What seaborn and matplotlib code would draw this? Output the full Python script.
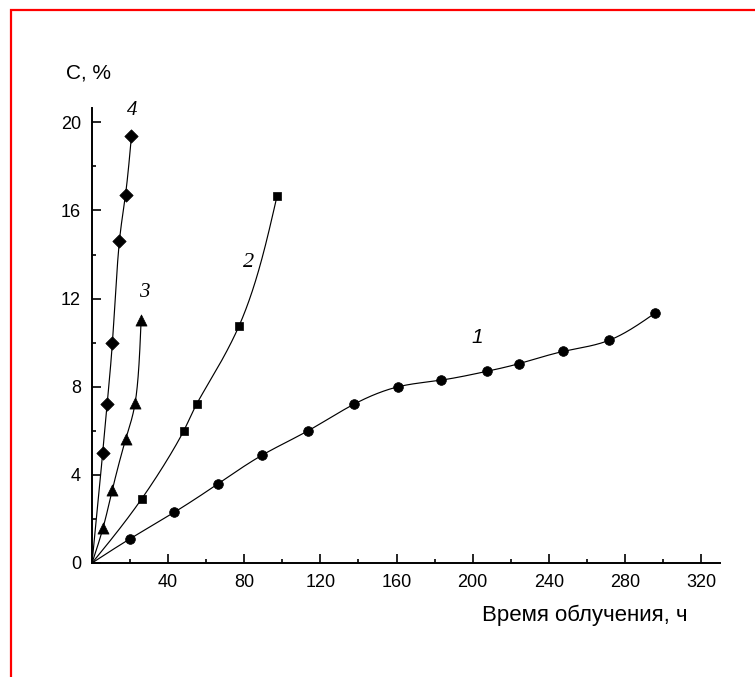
import numpy as np
import matplotlib
matplotlib.use("Agg")
import matplotlib.pyplot as plt
from matplotlib.patches import Rectangle
from matplotlib.ticker import MultipleLocator, FixedLocator
import seaborn as sns

# Irradiation time (h) and concentration C (%) for the four samples
t1 = [20, 43.2, 66.3, 89.5, 113.5, 137.5, 161, 183.5, 207.5, 224.5, 247.5, 271.5, 296]
c1 = [1.1, 2.3, 3.6, 4.9, 6.0, 7.2, 8.0, 8.3, 8.7, 9.05, 9.6, 10.1, 11.35]

t2 = [26, 48.2, 55, 77.2, 97.2]
c2 = [2.9, 6.0, 7.22, 10.75, 16.65]

t3 = [5.8, 10.7, 17.7, 22.6, 25.8]
c3 = [1.6, 3.33, 5.62, 7.24, 11.05]

t4 = [5.6, 7.9, 10.7, 14.4, 17.6, 20.7]
c4 = [5.0, 7.2, 10.0, 14.62, 16.72, 19.36]

curve_names = ["1", "2", "3", "4"]
x_ticks = [40, 80, 120, 160, 200, 240, 280, 320]
y_ticks = [0, 4, 8, 12, 16, 20]

# approximate on-screen scale (pixels per data unit) used for smoothing
SX, SY = 1.903, 22.03


def natural_spline(s, v, sn):
    """Natural cubic spline v(s) evaluated at sn."""
    s = np.asarray(s, float)
    v = np.asarray(v, float)
    n = len(s)
    h = np.diff(s)
    A = np.zeros((n, n))
    r = np.zeros(n)
    A[0, 0] = A[-1, -1] = 1.0
    for i in range(1, n - 1):
        A[i, i - 1] = h[i - 1]
        A[i, i] = 2 * (h[i - 1] + h[i])
        A[i, i + 1] = h[i]
        r[i] = 6 * ((v[i + 1] - v[i]) / h[i] - (v[i] - v[i - 1]) / h[i - 1])
    M = np.linalg.solve(A, r)
    k = np.clip(np.searchsorted(s, sn) - 1, 0, n - 2)
    hk = h[k]
    a = (s[k + 1] - sn) / hk
    b = (sn - s[k]) / hk
    return (a * v[k] + b * v[k + 1]
            + ((a**3 - a) * M[k] + (b**3 - b) * M[k + 1]) * hk**2 / 6)


def smooth_curve(x, y, num=600):
    """Parametric spline through the points (centripetal parametrisation)."""
    px = np.asarray(x, float) * SX
    py = np.asarray(y, float) * SY
    seg = np.sqrt(np.hypot(np.diff(px), np.diff(py)))
    s = np.concatenate([[0.0], np.cumsum(seg)])
    sn = np.linspace(0, s[-1], num)
    return natural_spline(s, px, sn) / SX, natural_spline(s, py, sn) / SY


sns.set_style("white")
plt.rcParams["font.family"] = ["Liberation Sans", "DejaVu Sans"]
plt.rcParams["text.color"] = "black"
plt.rcParams["xtick.color"] = "black"
plt.rcParams["ytick.color"] = "black"
plt.rcParams["axes.labelcolor"] = "black"

fig = plt.figure(figsize=(7.55, 6.77), dpi=100)
ax = fig.add_axes([0.1219, 0.1684, 0.8318, 0.6721])

series = [
    (t1, c1, "o", 7.0),
    (t2, c2, "s", 5.6),
    (t3, c3, "^", 8.0),
    (t4, c4, "D", 6.8),
]

for t, c, mk, ms in series:
    xs = np.concatenate([[0.0], t])
    ys = np.concatenate([[0.0], c])
    xd, yd = smooth_curve(xs, ys)
    sns.lineplot(x=xd, y=yd, ax=ax, color="black", lw=0.85, sort=False,
                 estimator=None)
    sns.scatterplot(x=t, y=c, ax=ax, marker=mk, s=ms**2, color="black",
                    edgecolor="black", linewidth=0.5, zorder=3)

# Curve numbers
ax.text(202.2, 10.25, curve_names[0], fontsize=15, style="italic",
        family=["Liberation Sans"], ha="center", va="center")
ax.text(82.1, 13.65, curve_names[1], fontsize=16, style="italic",
        family=["Liberation Serif"], ha="center", va="center")
ax.text(27.3, 12.29, curve_names[2], fontsize=15, style="italic",
        family=["Liberation Serif"], ha="center", va="center")
ax.text(20.9, 20.54, curve_names[3], fontsize=15, style="italic",
        family=["Liberation Serif"], ha="center", va="center", clip_on=False)

ax.set_xlim(0, 330)
ax.set_ylim(0, 20.65)
ax.xaxis.set_major_locator(FixedLocator(x_ticks))
ax.xaxis.set_minor_locator(MultipleLocator(20))
ax.yaxis.set_major_locator(FixedLocator(y_ticks))
ax.yaxis.set_minor_locator(MultipleLocator(2))
ax.set_xticklabels([str(v) for v in x_ticks])
ax.set_yticklabels([str(v) for v in y_ticks])

for side in ("top", "right"):
    ax.spines[side].set_visible(False)
for side in ("left", "bottom"):
    ax.spines[side].set_linewidth(1.4)
    ax.spines[side].set_color("black")

ax.tick_params(which="major", direction="in", length=6.5, width=1.2,
               labelsize=13, color="black", labelcolor="black", pad=8)
ax.tick_params(which="minor", direction="in", length=3.2, width=1.2,
               color="black")
ax.tick_params(axis="x", which="both", bottom=True)
ax.tick_params(axis="y", which="both", left=True)
ax.grid(False)
ax.set_xlabel("")
ax.set_ylabel("")

fig.text(89 / 755, 1 - 73 / 677, "C, %", fontsize=15, ha="center", va="center")
fig.text(585 / 755, 1 - 615 / 677, "Время облучения, ч", fontsize=16,
         ha="center", va="center")

# Red frame around the figure
fig.add_artist(Rectangle((11 / 755, -0.5), 2.0, (1 - 10 / 677) + 0.5,
                         transform=fig.transFigure, fill=False,
                         edgecolor="#ff0000", lw=1.6, clip_on=False))

fig.savefig("out.png", dpi=100, facecolor="white")
